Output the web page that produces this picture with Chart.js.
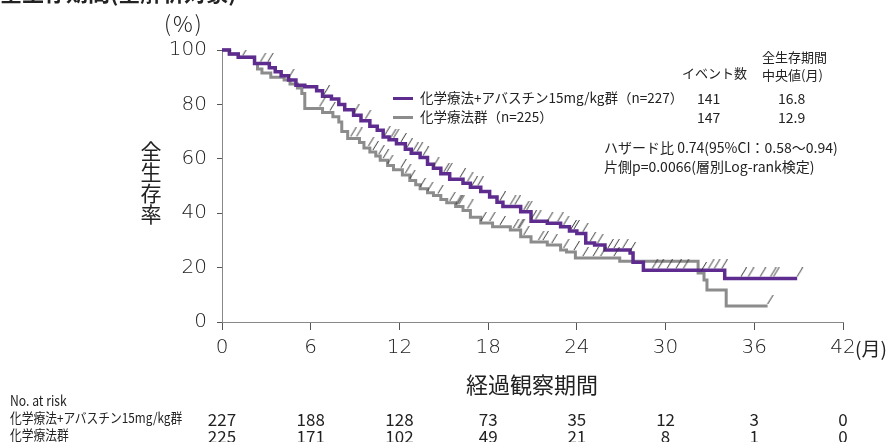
<!DOCTYPE html>
<html>
<head>
<meta charset="utf-8">
<script src="https://cdn.jsdelivr.net/npm/chart.js@4.4.1/dist/chart.umd.min.js"></script>
<style>
  html, body { margin: 0; padding: 0; background: #fff; }
  #wrap { position: relative; width: 890px; height: 442px; overflow: hidden; font-family: "Noto Sans CJK JP", "Noto Sans", sans-serif; color: #222; }
  #chart { position: absolute; left: 0; top: 0; }
  .t { position: absolute; white-space: nowrap; line-height: 1; transform: translateY(-50%); }
  .c { transform: translate(-50%, -50%); }
  .n { transform-origin: left center; transform: translateY(-50%) scaleX(0.87); }
</style>
</head>
<body>
<div id="wrap">
  <canvas id="chart" width="890" height="442"></canvas>

  <div class="t" style="left:0;top:-9px;font-size:22px;font-weight:bold;">全生存期間(全解析対象)</div>
  <div class="t" style="left:164px;top:22px;font-size:22px;font-weight:300;letter-spacing:2px;">(%)</div>
  <div class="t c" style="left:151px;top:150px;font-size:21px;">全</div>
  <div class="t c" style="left:151px;top:171px;font-size:21px;">生</div>
  <div class="t c" style="left:151px;top:192px;font-size:21px;">存</div>
  <div class="t c" style="left:151px;top:213px;font-size:21px;">率</div>
  <div class="t" style="left:855px;top:347px;font-size:19px;">(月)</div>
  <div class="t c" style="left:532px;top:383px;font-size:22px;">経過観察期間</div>

  <!-- 凡例と統計 -->
  <div class="t" style="left:762px;top:56px;font-size:13px;">全生存期間</div>
  <div class="t" style="left:682px;top:72px;font-size:13px;">イベント数</div>
  <div class="t" style="left:762px;top:74px;font-size:13px;">中央値(月)</div>
  <div style="position:absolute;left:393px;top:97px;width:20px;height:3px;background:#5e2b8f;"></div>
  <div style="position:absolute;left:393px;top:116px;width:20px;height:3px;background:#8c8c8c;"></div>
  <div class="t" style="left:420px;top:98px;font-size:13.5px;">化学療法+アバスチン15mg/kg群（n=227）</div>
  <div class="t" style="left:420px;top:117px;font-size:13.5px;">化学療法群（n=225）</div>
  <div class="t" style="left:697px;top:98px;font-size:14px;">141</div>
  <div class="t" style="left:697px;top:117px;font-size:14px;">147</div>
  <div class="t" style="left:778px;top:98px;font-size:14px;">16.8</div>
  <div class="t" style="left:778px;top:117px;font-size:14px;">12.9</div>
  <div class="t" style="left:604px;top:147px;font-size:14px;">ハザード比 0.74(95%CI：0.58～0.94)</div>
  <div class="t" style="left:604px;top:166px;font-size:14px;">片側p=0.0066(層別Log-rank検定)</div>

  <!-- リスク集団 -->
  <div class="t n" style="left:10px;top:400px;font-size:14px;">No. at risk</div>
  <div class="t n" style="left:10px;top:418px;font-size:13.5px;">化学療法+アバスチン15mg/kg群</div>
  <div class="t n" style="left:10px;top:435px;font-size:13.5px;">化学療法群</div>
  <div id="risk"></div>
</div>

<script>
// 経過観察期間(月)の目盛
const monthTicks = [0, 6, 12, 18, 24, 30, 36, 42];

// 化学療法+アバスチン群 (月, 生存率%)
const bevTime = [0, 0.5, 1.1, 2.2, 3.2, 3.6, 4.0, 4.5, 5.0, 5.6, 6.4, 6.8, 7.4, 7.9, 8.3, 8.9, 9.4, 10.0, 10.5, 10.9, 11.3, 11.8, 12.4, 12.8, 13.4, 13.9, 14.3, 14.8, 15.4, 16.3, 16.8, 17.5, 18.1, 18.6, 19.0, 20.2, 20.9, 22.0, 22.9, 23.5, 24.0, 24.6, 25.2, 25.9, 27.6, 27.8, 28.5, 34.0, 38.9];
const bevSurv = [100, 98.5, 97.3, 95, 93.5, 92, 90.5, 89, 87, 86.5, 85, 83, 82, 80, 78, 76, 74, 72, 70.5, 68, 67, 65.5, 63.5, 62, 60.5, 58, 56.5, 54.5, 52.5, 51, 49.5, 48, 46, 44, 42.5, 40.5, 37, 36.3, 35, 33.5, 32.5, 29, 28.3, 26.5, 25.4, 22, 19, 16, 16];
const bevCensor = [0.2, 0.5, 1.4, 2.6, 3.1, 4.5, 6.9, 8.9, 9.7, 11.0, 11.4, 11.6, 12.1, 12.5, 12.9, 13.2, 13.6, 14.3, 15.0, 15.2, 16.1, 16.6, 16.9, 17.3, 18.8, 19.5, 19.8, 20.4, 20.6, 20.9, 21.2, 22.0, 22.7, 23.1, 23.6, 23.8, 24.4, 24.9, 25.4, 26.1, 26.5, 27.1, 27.6, 29.1, 29.5, 30.1, 30.7, 31.2, 32.9, 33.3, 33.8, 35.1, 35.6, 36.4, 37.1, 37.3, 38.9];

// 化学療法群
const chemoTime = [0, 0.5, 1.1, 2.2, 2.4, 2.7, 3.3, 4.2, 4.6, 5.1, 5.4, 5.6, 6.8, 7.5, 7.9, 8.1, 8.5, 9.3, 9.6, 10.0, 10.4, 10.7, 11.2, 11.6, 12.2, 12.7, 13.1, 13.4, 13.9, 14.3, 14.8, 15.2, 15.8, 16.3, 16.8, 17.5, 18.3, 19.5, 20.2, 20.9, 22.0, 22.9, 23.3, 23.9, 26.9, 32.2, 32.6, 32.8, 34.1, 36.9];
const chemoSurv = [100, 98.5, 97.3, 95, 93, 91.5, 90, 89, 87.5, 86, 84, 78.5, 77, 75.5, 73.5, 70, 67.5, 66, 64, 62.5, 61, 59.5, 57.5, 56, 54, 52, 50.5, 49, 47.5, 46.5, 45, 43.8, 42.5, 41, 38.5, 36.4, 35, 33.8, 31.3, 29.4, 28.3, 26.5, 25.7, 23.5, 22.3, 18, 15.4, 11.8, 5.9, 5.9];
const chemoCensor = [0.1, 0.3, 6.6, 7.3, 8.7, 9.1, 9.9, 10.2, 10.6, 10.9, 11.2, 12.1, 12.4, 12.7, 13.4, 13.9, 14.6, 15.4, 15.8, 15.9, 16.0, 16.6, 17.5, 18.1, 18.8, 19.7, 20.0, 20.1, 20.4, 21.4, 21.7, 22.3, 23.1, 23.8, 24.4, 25.1, 25.6, 26.5, 32.4, 36.9];

// No. at risk
const riskBev = [227, 188, 128, 73, 35, 12, 3, 0];
const riskChemo = [225, 171, 102, 49, 21, 8, 1, 0];

const purple = '#5e2b8f';
const gray = '#8c8c8c';

function toPoints(ts, ss) {
  return ts.map((t, i) => ({ x: t, y: ss[i] }));
}
// 打ち切り時点の生存率をステップ関数から取る
function censorPoints(ts, ss, cs) {
  return cs.map(c => {
    let v = ss[0];
    for (let i = 0; i < ts.length; i++) { if (ts[i] <= c) v = ss[i]; }
    return { x: c, y: v };
  });
}

// 打ち切りの斜線マーク
const tick = document.createElement('canvas');
tick.width = 14; tick.height = 22;
const tc = tick.getContext('2d');
tc.strokeStyle = '#333';
tc.lineWidth = 1;
tc.beginPath();
tc.moveTo(7, 9);
tc.lineTo(12.5, 0);
tc.stroke();

const tickFont = { family: '"DejaVu Sans"', size: 20, weight: 200 };

const chart = new Chart(document.getElementById('chart'), {
  type: 'line',
  data: {
    datasets: [
      { type: 'scatter', data: censorPoints(bevTime, bevSurv, bevCensor), pointStyle: tick, pointRadius: 7, showLine: false },
      { type: 'scatter', data: censorPoints(chemoTime, chemoSurv, chemoCensor), pointStyle: tick, pointRadius: 7, showLine: false },
      { data: toPoints(bevTime, bevSurv), borderColor: purple, borderWidth: 3.5, stepped: 'before', pointRadius: 0, clip: 6 },
      { data: toPoints(chemoTime, chemoSurv), borderColor: gray, borderWidth: 3, stepped: 'before', pointRadius: 0, clip: 6 }
    ]
  },
  options: {
    responsive: false,
    animation: false,
    events: [],
    layout: { padding: { left: 0, top: 50, right: 47, bottom: 0 } },
    plugins: { legend: { display: false }, tooltip: { enabled: false } },
    scales: {
      x: {
        type: 'linear',
        min: 0, max: 42,
        afterFit: s => { s.height = 120; },
        afterBuildTicks: s => { s.ticks = monthTicks.map(v => ({ value: v })); },
        grid: { drawOnChartArea: false, tickLength: 8, color: '#555', tickWidth: 1 },
        border: { color: '#888', width: 1 },
        ticks: { color: '#222', padding: 6, font: tickFont }
      },
      y: {
        min: 0, max: 100,
        afterFit: s => { s.width = 222; },
        ticks: { stepSize: 20, color: '#222', padding: 10, font: tickFont },
        grid: { drawOnChartArea: false, tickLength: 5, color: '#555' },
        border: { color: '#888', width: 1 }
      }
    }
  }
});

// リスク集団の数を目盛位置に並べる
const risk = document.getElementById('risk');
monthTicks.forEach((m, i) => {
  const x = chart.scales.x.getPixelForValue(m);
  [[riskBev[i], 418], [riskChemo[i], 435]].forEach(([n, y]) => {
    const d = document.createElement('div');
    d.className = 't c';
    d.style.left = x + 'px';
    d.style.top = y + 'px';
    d.style.fontSize = '17px';
    d.textContent = n;
    risk.appendChild(d);
  });
});
</script>
</body>
</html>
